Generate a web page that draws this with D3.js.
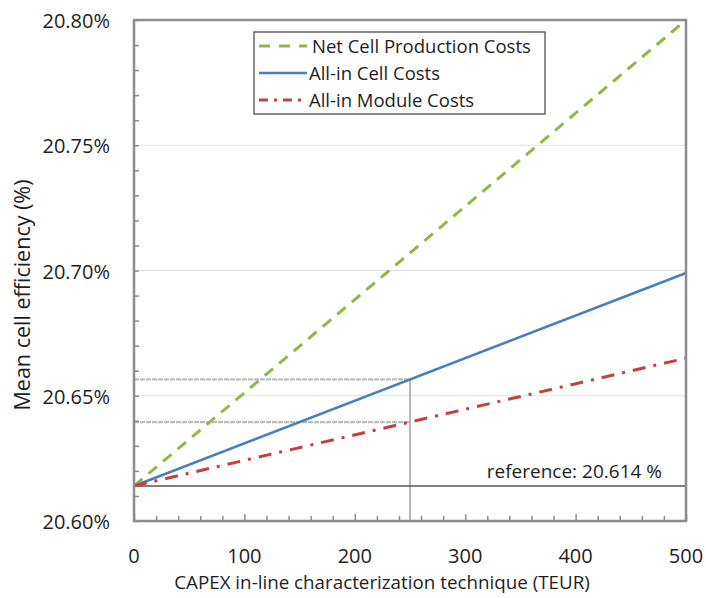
<!DOCTYPE html>
<html>
<head>
<meta charset="utf-8">
<script src="https://cdn.jsdelivr.net/npm/d3@7"></script>
<style>
  html, body { margin: 0; padding: 0; background: #fff; }
  svg { display: block; font-family: "Open Sans", Lato, sans-serif; }
</style>
</head>
<body>
<svg id="chart" width="706" height="598"></svg>
<script>
// CAPEX (TEUR) at which each break-even line is evaluated
const capex = [0, 500];
// Mean cell efficiency (%) needed to break even
const netCellProduction = [20.614, 20.800];
const allInCell = [20.614, 20.699];
const allInModule = [20.614, 20.665];

const seriesNames = ["Net Cell Production Costs", "All-in Cell Costs", "All-in Module Costs"];
const referenceEfficiency = 20.614;
// Highlighted operating point
const markerCapex = 250;
const markerValues = [20.6565, 20.6395];

const xTicks = [0, 100, 200, 300, 400, 500];
const yTicks = [20.60, 20.65, 20.70, 20.75, 20.80];

const svg = d3.select("#chart");
const margin = { left: 134, right: 20, top: 20, bottom: 77 };
const W = 706, H = 598;
const x = d3.scaleLinear().domain([0, 500]).range([margin.left, W - margin.right]);
const y = d3.scaleLinear().domain([20.60, 20.80]).range([H - margin.bottom, margin.top]);

const frame = "#8c8c8c";
const ink = "#1e1e1e";

// horizontal gridlines
svg.append("g").selectAll("line").data(yTicks.slice(1, -1)).join("line")
  .attr("x1", x(0)).attr("x2", x(500))
  .attr("y1", d => y(d)).attr("y2", d => y(d))
  .attr("stroke", "#e0e0e0").attr("stroke-width", 1.2);

// guide lines to the operating point
svg.append("g").selectAll("line").data(markerValues).join("line")
  .attr("x1", x(0)).attr("x2", x(markerCapex))
  .attr("y1", d => y(d)).attr("y2", d => y(d))
  .attr("stroke", "#bcbcbc").attr("stroke-width", 2.2)
  .attr("stroke-dasharray", "5,1");
svg.append("line")
  .attr("x1", x(markerCapex)).attr("x2", x(markerCapex))
  .attr("y1", y(markerValues[0])).attr("y2", y(20.60))
  .attr("stroke", "#6f6f6f").attr("stroke-width", 1);

// reference efficiency
svg.append("line")
  .attr("x1", x(0)).attr("x2", x(500))
  .attr("y1", y(referenceEfficiency)).attr("y2", y(referenceEfficiency))
  .attr("stroke", "#555").attr("stroke-width", 1.4);
svg.append("text")
  .attr("x", 662).attr("y", y(referenceEfficiency) - 8)
  .attr("text-anchor", "end").attr("font-size", 19).attr("fill", ink)
  .text("reference: " + referenceEfficiency.toFixed(3) + " %");

// axes with inward ticks
const yAxis = d3.axisLeft(y).tickValues(d3.range(20.60, 20.8001, 0.01)).tickSize(-5).tickFormat("");
const gy = svg.append("g").attr("transform", `translate(${x(0)},0)`).call(yAxis);
const xAxis = d3.axisBottom(x).tickValues(d3.range(0, 501, 20)).tickSize(-5).tickFormat("");
const gx = svg.append("g").attr("transform", `translate(0,${y(20.60)})`).call(xAxis);
gx.selectAll(".tick line").filter(d => d % 100 === 0).attr("y2", -7);
[gx, gy].forEach(g => {
  g.select(".domain").remove();
  g.selectAll(".tick line").attr("stroke", frame).attr("stroke-width", 1.5);
});

// tick labels
svg.append("g").selectAll("text").data(yTicks).join("text")
  .attr("x", 110).attr("y", d => y(d) + 8)
  .attr("text-anchor", "end").attr("font-size", 20).attr("fill", ink)
  .text(d => d.toFixed(2) + "%");
svg.append("g").selectAll("text").data(xTicks).join("text")
  .attr("x", d => x(d)).attr("y", 563)
  .attr("text-anchor", "middle").attr("font-size", 20).attr("fill", ink)
  .text(d => d);

// axis titles
svg.append("text")
  .attr("x", 382).attr("y", 589)
  .attr("text-anchor", "middle").attr("font-size", 18.8).attr("fill", ink)
  .text("CAPEX in-line characterization technique (TEUR)");
svg.append("text")
  .attr("transform", "translate(30,295) rotate(-90)")
  .attr("text-anchor", "middle").attr("font-size", 21.5).attr("fill", ink)
  .text("Mean cell efficiency (%)");

// break-even lines
const styles = [
  { values: netCellProduction, color: "#8cbb45", width: 3, dash: "11,8" },
  { values: allInCell, color: "#4a7ec0", width: 2.6, dash: null },
  { values: allInModule, color: "#c6403c", width: 3, dash: "13,8,3,8" }
];
const line = d3.line().x(d => x(d[0])).y(d => y(d[1]));
styles.forEach(s => {
  svg.append("path")
    .datum(capex.map((c, i) => [c, s.values[i]]))
    .attr("d", line).attr("fill", "none")
    .attr("stroke", s.color).attr("stroke-width", s.width)
    .attr("stroke-dasharray", s.dash);
});

// plot frame
svg.append("rect")
  .attr("x", x(0)).attr("y", y(20.80))
  .attr("width", x(500) - x(0)).attr("height", y(20.60) - y(20.80))
  .attr("fill", "none").attr("stroke", frame).attr("stroke-width", 2.5);

// legend
const lg = svg.append("g");
lg.append("rect").attr("x", 254).attr("y", 32).attr("width", 291).attr("height", 82)
  .attr("fill", "#fff").attr("stroke", "#666").attr("stroke-width", 1.5);
const legendDash = ["11,9", null, "9,6,3,6"];
seriesNames.forEach((name, i) => {
  const yy = 46 + i * 27;
  lg.append("line").attr("x1", 259).attr("x2", 307).attr("y1", yy).attr("y2", yy)
    .attr("stroke", styles[i].color).attr("stroke-width", styles[i].width)
    .attr("stroke-dasharray", legendDash[i]);
  lg.append("text").attr("x", i === 0 ? 312 : 309).attr("y", yy + 6.5)
    .attr("font-size", 18.5).attr("fill", ink).text(name);
});
</script>
</body>
</html>
